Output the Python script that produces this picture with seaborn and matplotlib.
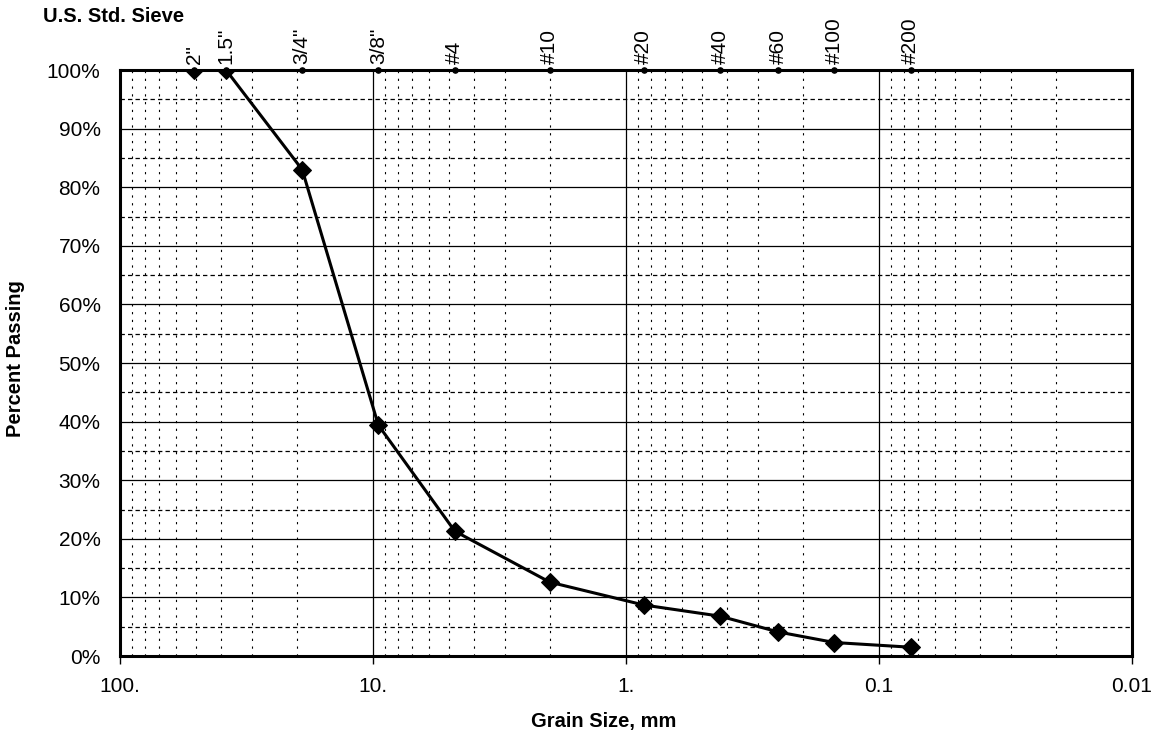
import numpy as np
import pandas as pd
import matplotlib
matplotlib.use("Agg")
import matplotlib.pyplot as plt
from matplotlib.ticker import FixedLocator, FixedFormatter, MultipleLocator, NullFormatter
import seaborn as sns

# ---- data ----
sieve_labels = ['2"', '1.5"', '3/4"', '3/8"', '#4', '#10', '#20', '#40', '#60', '#100', '#200']
sieve_mm = [50.8, 38.1, 19.05, 9.525, 4.75, 2.0, 0.85, 0.425, 0.25, 0.15, 0.075]
percent_passing = [100.0, 100.0, 83.0, 39.4, 21.3, 12.6, 8.7, 6.8, 4.1, 2.3, 1.5]
x_major_ticks = [100, 10, 1, 0.1, 0.01]
x_major_labels = ["100.", "10.", "1.", "0.1", "0.01"]
y_ticks = list(range(0, 101, 10))
y_tick_labels = [f"{v}%" for v in y_ticks]

df = pd.DataFrame({"size": sieve_mm, "pct": percent_passing})

sns.set_style("white")
plt.rcParams['font.family'] = ['Liberation Sans', 'DejaVu Sans']
plt.rcParams['text.color'] = 'black'
plt.rcParams['axes.labelcolor'] = 'black'
plt.rcParams['xtick.color'] = 'black'
plt.rcParams['ytick.color'] = 'black'

fig = plt.figure(figsize=(11.59, 7.40), dpi=100)
ax = fig.add_axes([120/1159, 1-656/740, (1132-120)/1159, (656-70)/740])

ax.set_xscale("log")
ax.set_xlim(100, 0.01)
ax.set_ylim(0, 100)

# grid
ax.xaxis.set_major_locator(FixedLocator(x_major_ticks))
ax.xaxis.set_major_formatter(FixedFormatter(x_major_labels))
minor_x = [m * 10.0**e for e in range(-2, 2) for m in range(2, 10)]
ax.xaxis.set_minor_locator(FixedLocator(minor_x))
ax.xaxis.set_minor_formatter(NullFormatter())
ax.yaxis.set_major_locator(FixedLocator(y_ticks))
ax.yaxis.set_major_formatter(FixedFormatter(y_tick_labels))
ax.yaxis.set_minor_locator(MultipleLocator(5))

ax.grid(which="major", axis="both", color="black", lw=0.9, ls="-")
ax.grid(which="minor", axis="y", color="black", lw=0.9, ls=(0, (3.5, 2.5)))
ax.grid(which="minor", axis="x", color="black", lw=0.8, ls=(0, (2, 5)))
ax.set_axisbelow(True)

sns.lineplot(data=df, x="size", y="pct", sort=False, ax=ax, color="black",
             lw=2.2, marker="D", markersize=9, markeredgecolor="black",
             markerfacecolor="black", zorder=4)

# sieve dots on top line
ax.scatter(sieve_mm, [100] * len(sieve_mm), s=14, color="black", zorder=6, clip_on=False)

for s in ax.spines.values():
    s.set_visible(True)
    s.set_color("black")
    s.set_linewidth(2.2)

ax.tick_params(axis="both", which="major", direction="out", length=6, width=1,
               color="black", labelsize=15, labelcolor="black")
ax.tick_params(axis="x", which="major", pad=9)
ax.tick_params(axis="y", which="major", pad=8)
ax.tick_params(which="minor", length=0)
ax.set_xlabel("")
ax.set_ylabel("")

# top sieve axis
ax2 = ax.twiny()
ax2.set_xscale("log")
ax2.set_xlim(ax.get_xlim())
ax2.xaxis.set_major_locator(FixedLocator(sieve_mm))
ax2.xaxis.set_major_formatter(FixedFormatter(sieve_labels))
ax2.xaxis.set_minor_locator(FixedLocator([]))
ax2.tick_params(axis="x", which="major", length=0, pad=4, labelsize=15,
                labelrotation=90, labelcolor="black")
for s in ax2.spines.values():
    s.set_visible(False)
ax2.grid(False)

fig.text(43/1159, 1-22/740, "U.S. Std. Sieve", fontsize=14.5, fontweight="bold",
         ha="left", va="baseline", color="black")
fig.text(16/1159, 1-359/740, "Percent Passing", fontsize=14.5, fontweight="bold",
         rotation=90, ha="center", va="center", color="black")
fig.text(604/1159, 1-722/740, "Grain Size, mm", fontsize=14.5, fontweight="bold",
         ha="center", va="center", color="black")

fig.savefig("out.png", dpi=100)
